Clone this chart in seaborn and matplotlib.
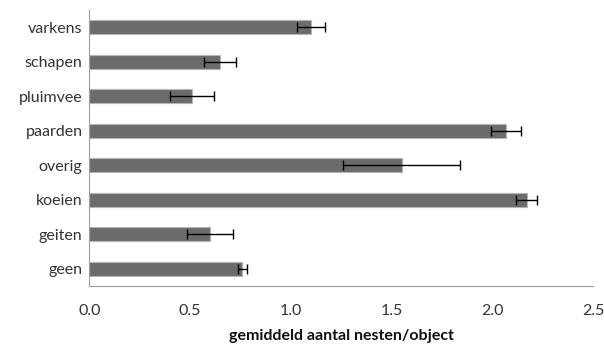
import matplotlib
matplotlib.use("Agg")
import matplotlib.pyplot as plt
import seaborn as sns
import pandas as pd
import numpy as np

categories = ["varkens", "schapen", "pluimvee", "paarden", "overig", "koeien", "geiten", "geen"]
means = [1.10, 0.65, 0.51, 2.07, 1.55, 2.17, 0.60, 0.76]
errors = [0.07, 0.08, 0.11, 0.075, 0.29, 0.05, 0.115, 0.02]
xticks = [0.0, 0.5, 1.0, 1.5, 2.0, 2.5]
xlabel = "gemiddeld aantal nesten/object"

sns.set_theme(style="white")
plt.rcParams['font.family'] = ['Lato', 'DejaVu Sans']

df = pd.DataFrame({"cat": categories, "val": means})

fig = plt.figure(figsize=(6.04, 3.46), dpi=100)
ax = fig.add_axes([89.4/604, 1 - 286/346, (593 - 89.4)/604, (286 - 10)/346])

sns.barplot(data=df, y="cat", x="val", order=categories, color="#6b6b6b",
            width=0.4, edgecolor="#b5b5b5", linewidth=0.8, saturation=1, ax=ax, errorbar=None)
ax.errorbar(means, np.arange(len(categories)), xerr=errors, fmt="none",
            ecolor="black", elinewidth=1, capsize=3.5, capthick=1)

fs = 11.5
ax.set_xlim(0, 2.5)
ax.set_ylim(len(categories) - 0.5, -0.5)
ax.set_xticks(xticks)
ax.set_xticklabels([f"{t:.1f}" for t in xticks], fontsize=fs, color="#333333")
ax.set_yticks(np.arange(len(categories)))
ax.set_yticklabels(categories, fontsize=fs, color="#333333")
ax.set_yticks(np.arange(-0.5, len(categories)), minor=True)
ax.tick_params(axis="y", which="major", length=0, pad=5)
ax.tick_params(axis="y", which="minor", length=5, color="#a0a0a0", width=0.8, direction="out")
ax.tick_params(axis="x", which="major", length=5, color="#a0a0a0", width=0.8, direction="out", pad=8)
ax.set_ylabel("")
ax.set_xlabel(xlabel, fontsize=fs, fontweight="bold", labelpad=8, color="#111111")

for s in ["top", "right"]:
    ax.spines[s].set_visible(False)
for s in ["left", "bottom"]:
    ax.spines[s].set_color("#a0a0a0")
    ax.spines[s].set_linewidth(0.8)
ax.grid(False)

fig.savefig("out.png", dpi=100)
